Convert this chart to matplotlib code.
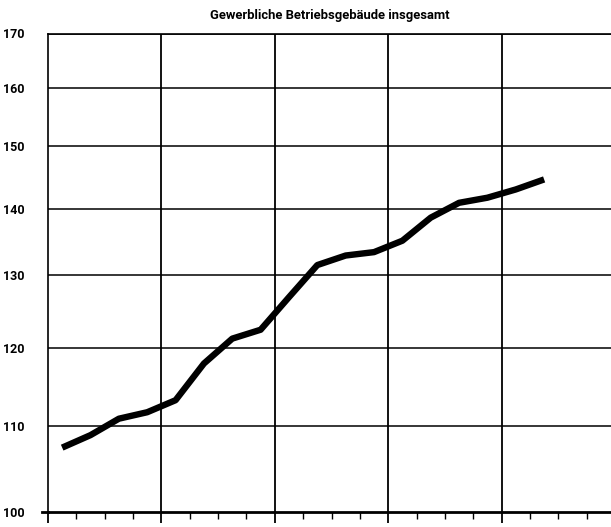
import matplotlib
matplotlib.use("Agg")
import matplotlib.pyplot as plt
from matplotlib.ticker import FixedLocator, NullFormatter, NullLocator
import numpy as np

# Quarterly index values (mid-quarter positions)
quarters = np.arange(18) + 0.5
values = [107.4, 108.9, 110.9, 111.7, 113.2, 117.9, 121.2, 122.4, 126.9,
          131.5, 132.9, 133.4, 135.1, 138.6, 140.9, 141.7, 143.0, 144.6]
yticks = [100, 110, 120, 130, 140, 150, 160, 170]
ytick_labels = ["100", "110", "120", "130", "140", "150", "160", "170"]
year_ticks = [0, 4, 8, 12, 16]
quarter_ticks = [q for q in range(1, 20) if q % 4 != 0]
title = "Gewerbliche Betriebsgebäude insgesamt"

FONT = ["Roboto", "DejaVu Sans"]

fig = plt.figure(figsize=(6.11, 5.27), dpi=100)
ax = fig.add_axes([48/611, 1-512/527, 1-48/611, (512-33.5)/527])

ax.set_yscale("log")
ax.set_ylim(100, 170)
ax.set_xlim(0, (611-48)/28.35)

ax.plot(quarters, values, color="black", lw=4.6, solid_capstyle="butt",
        solid_joinstyle="round", zorder=3)

# grid
ax.yaxis.set_major_locator(FixedLocator(yticks))
ax.yaxis.set_minor_locator(NullLocator())
ax.yaxis.set_minor_formatter(NullFormatter())
ax.set_yticklabels(ytick_labels, fontfamily=FONT, fontweight="bold", fontsize=9)
ax.tick_params(axis="y", length=0, pad=17)
for v in yticks[1:]:
    ax.axhline(v, color="black", lw=1.1, zorder=1)
for x in year_ticks[1:]:
    ax.axvline(x, color="black", lw=1.3, zorder=1)

ax.xaxis.set_major_locator(FixedLocator(year_ticks))
ax.xaxis.set_minor_locator(FixedLocator(quarter_ticks))
ax.xaxis.set_major_formatter(NullFormatter())
ax.tick_params(axis="x", which="major", length=8, width=1.3, direction="out")
ax.tick_params(axis="x", which="minor", length=5, width=1.0, direction="out")

for s in ["left", "top"]:
    ax.spines[s].set_linewidth(1.2)
ax.spines["bottom"].set_linewidth(2.0)
ax.spines["right"].set_visible(False)
ax.plot([-0.011, 0], [0, 0], transform=ax.transAxes, color="black", lw=2.0,
        clip_on=False)

fig.text(330/611, 1-15/527, title, ha="center", va="center",
         fontfamily=FONT, fontweight="bold", fontsize=9.4)

fig.savefig("out.png", dpi=100)
